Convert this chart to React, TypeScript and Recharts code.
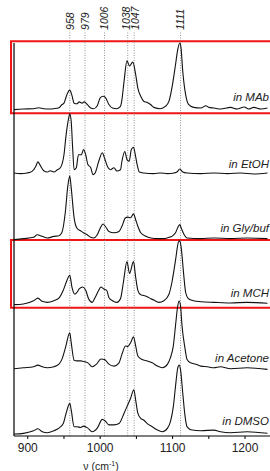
import React from 'react';
import { LineChart, Line, XAxis, YAxis, ReferenceLine, ReferenceArea } from 'recharts';

// ---- data (wavenumber in cm-1, intensity in normalized units) ----
const wnMAb = [881, 894, 908, 915, 922, 931, 936, 943, 947, 950, 954, 958, 961, 964, 968, 971, 975, 978, 982, 987, 991, 996, 1000, 1004, 1007, 1012, 1017, 1023, 1028, 1030, 1033, 1037, 1040.5, 1045, 1049, 1052, 1056, 1060, 1065, 1070, 1074, 1083, 1090, 1095, 1099, 1104, 1107, 1110, 1111.5, 1114, 1118, 1122, 1129, 1139, 1146, 1150, 1157, 1166, 1180, 1189, 1199, 1205, 1212, 1222, 1231];
const iMAb = [-0.01, 0, 0.005, 0.02, 0.005, 0, 0.005, 0.02, 0.065, 0.09, 0.22, 0.29, 0.21, 0.09, 0.08, 0.11, 0.09, 0.11, 0.07, 0.015, 0.005, 0.05, 0.17, 0.195, 0.18, 0.07, 0.015, 0.005, 0.04, 0.14, 0.43, 0.74, 0.66, 0.72, 0.53, 0.32, 0.195, 0.12, 0.1, 0.065, 0.025, 0.005, 0.04, 0.12, 0.32, 0.68, 0.91, 1.015, 0.95, 0.58, 0.22, 0.07, 0.025, 0.015, 0.05, 0.025, 0.015, 0, 0.025, 0, 0.03, 0, 0.025, 0, 0.015];

const wnEtOH = [881, 890, 899, 906, 911, 914, 917, 922, 927, 931, 936, 941, 945, 950, 953, 957, 958, 960, 962, 964, 967, 970, 974, 977, 980, 983, 987, 990, 993, 998, 1003, 1006, 1010, 1014, 1019, 1023, 1028, 1030, 1034, 1037, 1040, 1043, 1046, 1048, 1051, 1054, 1060, 1074, 1083, 1093, 1102, 1106, 1110, 1114, 1120, 1139, 1157, 1176, 1194, 1212, 1231];
const iEtOH = [0, -0.01, 0, 0.025, 0.1, 0.17, 0.12, 0.035, 0.015, 0.035, 0.015, 0.05, 0.08, 0.28, 0.59, 0.87, 0.91, 0.79, 0.38, 0.05, 0.08, 0.28, 0.28, 0.36, 0.28, 0.13, 0.08, -0.025, 0, 0.18, 0.31, 0.23, 0.1, 0.05, 0.08, 0.03, 0.05, 0.18, 0.33, 0.205, 0.18, 0.36, 0.395, 0.31, 0.13, 0.015, 0, -0.01, 0, -0.01, 0, 0.015, 0.06, 0.015, 0, -0.01, 0, -0.01, 0, -0.015, 0];

const wnGly = [881, 894, 908, 913, 920, 927, 936, 943, 947, 952, 955, 958, 960, 964, 968, 973, 977, 982, 987, 991, 996, 1000, 1004, 1007, 1012, 1019, 1026, 1030, 1035, 1038, 1042, 1046, 1049, 1052, 1056, 1063, 1070, 1079, 1088, 1095, 1099, 1104, 1108, 1110, 1112, 1116, 1120, 1139, 1157, 1180, 1203, 1231];
const iGly = [-0.025, -0.01, 0.01, 0.05, 0.025, 0, 0.025, 0.035, 0.08, 0.41, 0.77, 0.95, 0.77, 0.31, 0.15, 0.11, 0.08, 0.05, 0.01, 0, 0.05, 0.15, 0.215, 0.18, 0.1, 0.08, 0.1, 0.18, 0.31, 0.32, 0.31, 0.37, 0.28, 0.18, 0.08, 0.025, 0, -0.01, -0.01, 0.01, 0.025, 0.08, 0.18, 0.205, 0.15, 0.05, 0, -0.01, 0, -0.01, 0, -0.01];

const wnMCH = [881, 894, 908, 914, 920, 927, 936, 943, 949, 953, 958, 961, 965, 968, 971, 976, 980, 984, 989, 993, 998, 1001, 1005, 1009, 1012, 1017, 1023, 1028, 1032, 1037, 1040.5, 1046, 1049, 1052, 1056, 1060, 1065, 1070, 1074, 1081, 1088, 1095, 1099, 1104, 1108, 1110, 1112, 1115, 1118, 1122, 1129, 1139, 1157, 1180, 1203, 1231];
const iMCH = [-0.01, 0, 0.05, 0.09, 0.04, 0.025, 0.05, 0.09, 0.21, 0.33, 0.44, 0.26, 0.15, 0.18, 0.23, 0.26, 0.21, 0.08, 0.025, 0.1, 0.21, 0.26, 0.23, 0.21, 0.1, 0.05, 0.025, 0.08, 0.33, 0.65, 0.47, 0.65, 0.41, 0.21, 0.14, 0.13, 0.11, 0.08, 0.06, 0.025, 0.05, 0.15, 0.33, 0.67, 0.95, 0.97, 0.85, 0.49, 0.18, 0.08, 0.05, 0.035, 0.025, 0.015, 0.025, 0.01];

const wnAcetone = [881, 894, 908, 914, 920, 927, 936, 943, 947, 952, 958, 960, 964, 968, 973, 977, 983, 989, 995, 1001, 1006, 1012, 1019, 1026, 1030, 1035, 1038, 1042, 1046, 1049, 1052, 1058, 1065, 1072, 1079, 1086, 1093, 1097, 1101, 1104, 1107, 1109, 1111, 1113, 1117, 1120, 1125, 1132, 1139, 1148, 1157, 1166, 1180, 1203, 1231];
const iAcetone = [0, 0.015, 0.03, 0.055, 0.03, 0.015, 0.03, 0.07, 0.14, 0.32, 0.55, 0.4, 0.13, 0.12, 0.12, 0.11, 0.09, 0.03, 0.07, 0.15, 0.14, 0.07, 0.04, 0.09, 0.22, 0.35, 0.34, 0.4, 0.49, 0.35, 0.195, 0.14, 0.12, 0.09, 0.04, 0.015, 0.07, 0.17, 0.35, 0.66, 0.96, 1.04, 0.96, 0.66, 0.32, 0.14, 0.09, 0.07, 0.04, 0.03, 0.015, 0.03, 0, 0.015, -0.01];

const wnDMSO = [881, 894, 908, 914, 920, 927, 936, 943, 949, 953, 958, 960, 964, 968, 973, 977, 983, 989, 996, 1003, 1007, 1012, 1019, 1026, 1033, 1037, 1042, 1046.5, 1049, 1052, 1056, 1060, 1065, 1072, 1079, 1086, 1093, 1097, 1101, 1104, 1107, 1109, 1111, 1114, 1117, 1120, 1127, 1139, 1157, 1166, 1180, 1203, 1231];
const iDMSO = [0, 0.01, 0.05, 0.08, 0.035, 0.02, 0.05, 0.09, 0.16, 0.32, 0.47, 0.37, 0.11, 0.11, 0.1, 0.12, 0.09, 0.035, 0.09, 0.225, 0.2, 0.14, 0.14, 0.16, 0.32, 0.42, 0.55, 0.68, 0.52, 0.32, 0.24, 0.215, 0.16, 0.11, 0.06, 0.035, 0.09, 0.19, 0.42, 0.73, 1.01, 1.06, 0.98, 0.63, 0.29, 0.11, 0.06, 0.05, 0.06, 0.035, 0.02, 0.035, 0.01];

const solventNames = ['MAb', 'EtOH', 'Gly/buf', 'MCH', 'Acetone', 'DMSO'];
const stackOffsets = [5.025, 4.042, 3.043, 2.029, 1.034, 0.031];
const peakPositions = [958, 979, 1006, 1038, 1047, 1111];
const peakLabels = ['958', '979', '1006', '1038', '1047', '1111'];
const xTicks = [900, 950, 1000, 1050, 1100, 1150, 1200];

const wnSets = [wnMAb, wnEtOH, wnGly, wnMCH, wnAcetone, wnDMSO];
const iSets = [iMAb, iEtOH, iGly, iMCH, iAcetone, iDMSO];

const series = solventNames.map((name, k) => ({
  name,
  data: wnSets[k].map((x, i) => ({ x, y: iSets[k][i] + stackOffsets[k] })),
}));

const FONT = '"Liberation Sans", Arial, Helvetica, sans-serif';

// small horizontal nudges so the close 1038/1047 labels do not collide
const labelNudge: Record<string, number> = { '1038': -1.5, '1047': 1.5 };

const PeakLabel = (props: any) => {
  const vb = props.viewBox || {};
  const x = (vb.x ?? 0) + (labelNudge[props.peak] ?? 0);
  const y = vb.y ?? 0;
  return (
    <text
      x={x}
      y={y}
      dx={1}
      dy="0.36em"
      transform={`rotate(-90 ${x} ${y})`}
      textAnchor="start"
      fontFamily={FONT}
      fontStyle="italic"
      fontSize={10.5}
      fill="#222"
    >
      {props.peak}
    </text>
  );
};

// label baselines (px) for the solvent names
const nameBaselines = [101, 168, 232, 297, 362, 425];

export default function App() {
  return (
    <div style={{ position: 'fixed', left: 0, top: 0, width: 270, height: 471, overflow: 'hidden', background: '#fff' }}>
      <LineChart width={274} height={471} margin={{ top: 0, right: 0, bottom: 0, left: 14 }}>
        <XAxis
          type="number"
          dataKey="x"
          domain={[881, 1240]}
          allowDataOverflow
          ticks={xTicks}
          interval={0}
          tickFormatter={(v: number) => (v % 100 === 0 ? String(v) : '')}
          height={35}
          tickSize={3}
          tickMargin={4}
          axisLine={{ stroke: '#000', strokeWidth: 1 }}
          tickLine={{ stroke: '#000', strokeWidth: 1 }}
          tick={{ fontSize: 12, fill: '#222', fontFamily: FONT }}
        />
        <YAxis type="number" domain={[0, 6.7]} hide allowDataOverflow />

        <ReferenceArea x1={876.9} x2={1260} y1={4.959} y2={6.066} ifOverflow="visible" fill="none" fillOpacity={0} stroke="#f01414" strokeWidth={2} />
        <ReferenceArea x1={876.9} x2={1260} y1={1.972} y2={3.012} ifOverflow="visible" fill="none" fillOpacity={0} stroke="#f01414" strokeWidth={2} />

        <ReferenceLine segment={[{ x: 881, y: 0 }, { x: 881, y: 6.04 }]} stroke="#000" strokeWidth={1.2} ifOverflow="visible" />

        {peakPositions.map((p, i) => (
          <ReferenceLine
            key={p}
            segment={[{ x: p, y: 0 }, { x: p, y: 6.225 }]}
            stroke="#777"
            strokeWidth={0.8}
            strokeDasharray="1 1.5"
            ifOverflow="visible"
            label={(props: any) => <PeakLabel {...props} peak={peakLabels[i]} />}
          />
        ))}

        {series.map((s) => (
          <Line
            key={s.name}
            data={s.data}
            dataKey="y"
            type="monotone"
            stroke="#111"
            strokeWidth={1.1}
            dot={false}
            activeDot={false}
            isAnimationActive={false}
          />
        ))}
      </LineChart>
      <svg width={270} height={471} style={{ position: 'absolute', left: 0, top: 0, pointerEvents: 'none' }}>
        {solventNames.map((n, k) => (
          <text key={n} x={269} y={nameBaselines[k]} textAnchor="end" fontFamily={FONT} fontStyle="italic" fontSize={11.5} fill="#222">
            {'in ' + n}
          </text>
        ))}
        <text x={101} y={470} textAnchor="middle" fontFamily={FONT} fontSize={10.5} fill="#222">
          ν (cm<tspan dy={-4} fontSize={7}>-1</tspan><tspan dy={4}>)</tspan>
        </text>
      </svg>
    </div>
  );
}
